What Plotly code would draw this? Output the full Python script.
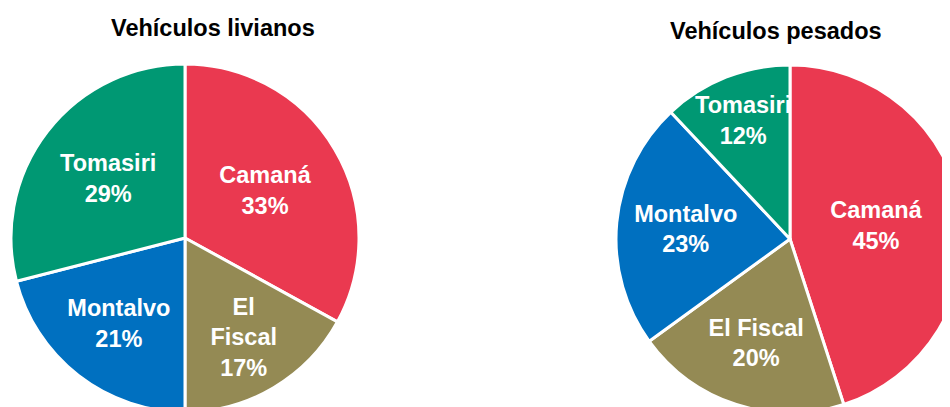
import plotly.graph_objects as go

categories = ["Camaná", "El Fiscal", "Montalvo", "Tomasiri"]
livianos_labels = ["Camaná", "El<br>Fiscal", "Montalvo", "Tomasiri"]
pesados_labels = ["Camaná", "El Fiscal", "Montalvo", "Tomasiri"]
livianos_values = [33, 17, 21, 29]
pesados_values = [45, 20, 23, 12]
colors = ["#EA3950", "#948A54", "#0070C0", "#009873"]
titles = ["Vehículos livianos", "Vehículos pesados"]

# figure canvas (page body has an 8px offset in the viewer)
W, H = 970, 420
font_family = "Arial, Liberation Sans, sans-serif"

fig = go.Figure()

def pie(values, texts, domain):
    return go.Pie(
        labels=categories,
        values=values,
        text=texts,
        texttemplate="%{text}<br>%{percent:.0%}",
        textposition="inside",
        insidetextorientation="horizontal",
        insidetextfont=dict(color="white", size=23.5, family=font_family, weight="bold"),
        marker=dict(colors=colors, line=dict(color="white", width=3)),
        sort=False,
        direction="clockwise",
        rotation=0,
        hoverinfo="label+percent",
        showlegend=False,
        domain=domain,
    )

fig.add_trace(pie(livianos_values, livianos_labels,
                  dict(x=[3 / W, 351 / W], y=[1 - 404 / H, 1 - 56 / H])))
fig.add_trace(pie(pesados_values, pesados_labels,
                  dict(x=[608 / W, 956 / W], y=[1 - 405 / H, 1 - 57 / H])))

fig.add_annotation(text="<b>" + titles[0] + "</b>", x=205 / W, y=1 - 20 / H,
                   xref="paper", yref="paper", showarrow=False,
                   xanchor="center", yanchor="middle",
                   font=dict(size=23.5, color="black", family=font_family))
fig.add_annotation(text="<b>" + titles[1] + "</b>", x=768 / W, y=1 - 23 / H,
                   xref="paper", yref="paper", showarrow=False,
                   xanchor="center", yanchor="middle",
                   font=dict(size=23.5, color="black", family=font_family))

fig.update_layout(
    width=W, height=H, autosize=False,
    margin=dict(l=0, r=0, t=0, b=0),
    paper_bgcolor="white", plot_bgcolor="white",
    font=dict(family=font_family),
    uniformtext=dict(minsize=23.5, mode="show"),
)

fig.write_html("out.html")
